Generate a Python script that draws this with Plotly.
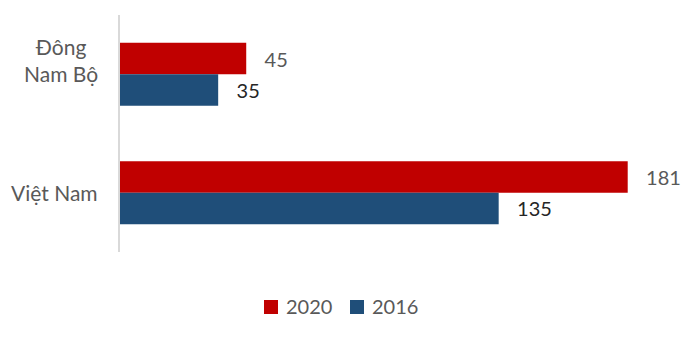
import plotly.graph_objects as go

categories = ["Đông<br>Nam Bộ", "Việt Nam"]
series_names = ["2020", "2016"]
values_2020 = [45, 181]
values_2016 = [35, 135]

colors = {"2020": "#C00000", "2016": "#1F4E79"}
label_colors = {"2020": "#595959", "2016": "#262626"}
FONT = "Lato, Carlito, Calibri, sans-serif"

fig = go.Figure()
for name, vals in zip(series_names, [values_2020, values_2016]):
    fig.add_trace(go.Bar(
        y=categories, x=vals, name=name, orientation="h",
        marker=dict(color=colors[name], line=dict(width=0)),
        text=vals, texttemplate="\u00a0\u00a0\u00a0%{x}", textposition="outside",
        textfont=dict(family=FONT, size=20, color=label_colors[name]),
        cliponaxis=False, showlegend=False,
    ))

# category labels
cat_yshift = [14, 0]
for cat, ys in zip(categories, cat_yshift):
    fig.add_annotation(
        x=-0.036, xref="paper", y=cat, yref="y", text=cat, showarrow=False,
        xanchor="right", align="center", yshift=ys,
        font=dict(family=FONT, size=21, color="#595959"),
    )

# legend (manual, to match compact Excel-style spacing)
legend_pos = {"2020": (0.2567, 0.2923), "2016": (0.4100, 0.4456)}
for name in series_names:
    sx, tx = legend_pos[name]
    fig.add_shape(type="rect", xref="paper", yref="paper",
                  x0=sx, x1=sx + 0.0249, y0=-0.2616, y1=-0.2025,
                  fillcolor=colors[name], line=dict(width=0))
    fig.add_annotation(x=tx, y=-0.2278, xref="paper", yref="paper", text=name,
                       showarrow=False, xanchor="left", yanchor="middle",
                       font=dict(family=FONT, size=20, color="#595959"))

fig.update_layout(
    width=690, height=361,
    margin=dict(l=112, r=17, t=7, b=117, autoexpand=False),
    paper_bgcolor="white", plot_bgcolor="white",
    barmode="group", bargap=0.47, bargroupgap=0,
    showlegend=False,
    xaxis=dict(range=[0, 200], showgrid=False, zeroline=False, showticklabels=False,
               showline=False),
    yaxis=dict(autorange="reversed", showticklabels=False, showgrid=False,
               showline=True, linecolor="#D9D9D9", linewidth=2, ticks=""),
    font=dict(family=FONT),
)

fig.write_html("out.html")
